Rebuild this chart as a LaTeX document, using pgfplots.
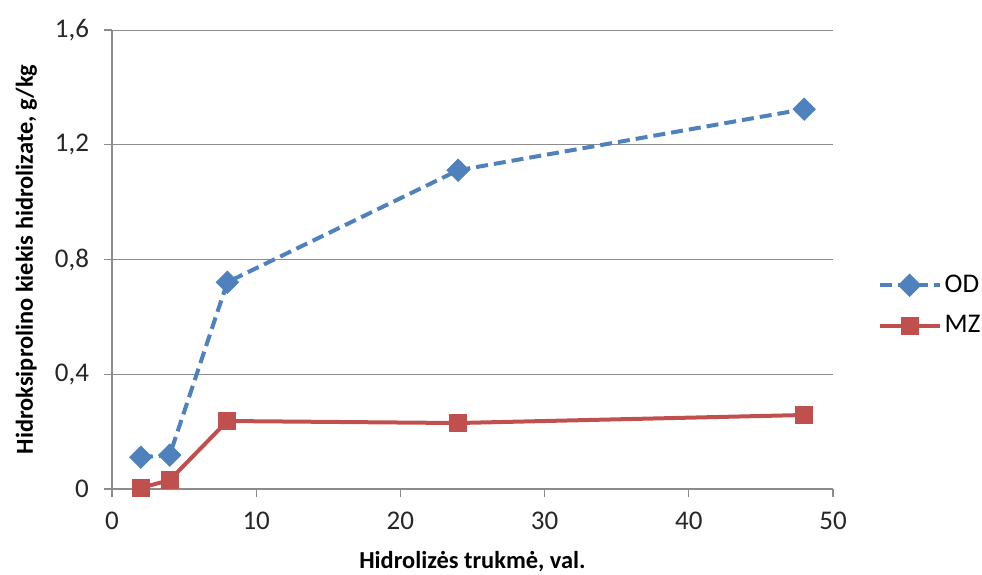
\documentclass[border=0pt]{standalone}
\usepackage{pgfplots}
\pgfplotsset{compat=1.18}
\usepackage{fontspec}
\setmainfont{Carlito}
\definecolor{odblue}{HTML}{4F81BD}
\definecolor{mzred}{HTML}{C0504D}
\definecolor{axgray}{HTML}{8C8C8C}
\begin{document}
\begin{tikzpicture}
\begin{axis}[
  scale only axis,
  width=360.5pt, height=229.5pt,
  xmin=0, xmax=50, ymin=0, ymax=1.6,
  xtick={0,10,20,30,40,50},
  ytick={0,0.4,0.8,1.2,1.6},
  axis x line*=bottom, axis y line*=left,
  axis line style={-, draw=axgray, line width=0.6pt},
  tick align=outside,
  major tick length=4pt,
  tick style={draw=axgray, line width=0.6pt},
  ymajorgrids,
  grid style={draw=axgray, line width=0.5pt},
  /pgf/number format/assume math mode=true,
  /pgf/number format/use comma,
  yticklabel style={/pgf/number format/fixed, /pgf/number format/precision=1, xshift=-4pt},
  xticklabel style={yshift=-4pt},
  tick label style={font=\fontsize{13.5}{16}\selectfont, text=black!85},
  xlabel={\textbf{Hidrolizės trukmė, val.}},
  ylabel={\textbf{Hidroksiprolino kiekis hidrolizate, g/kg}},
  label style={font=\fontsize{12.2}{15}\selectfont},
  xlabel style={yshift=-4pt},
  ylabel style={yshift=2pt},
  legend style={draw=none, at={(1.062,0.40)}, anchor=west, inner sep=0pt, outer sep=0pt,
    font=\fontsize{13.5}{16}\selectfont, row sep=6pt,
    nodes={inner xsep=1.5pt}},
  legend cell align=left,
  legend image code/.code={
    \draw[#1, mark repeat=2, mark phase=2] plot coordinates {(0pt,0pt) (15pt,0pt) (30pt,0pt)};
  },
  clip=false,
]
\addplot[color=odblue, line width=2pt, dash pattern=on 6pt off 3pt, mark=square*, mark size=3.9pt, mark options={solid, rotate=45, fill=odblue, line width=0.5pt}]
  coordinates {(2,0.111) (4,0.118) (8,0.721) (24,1.111) (48,1.324)};
\addlegendentry{OD}
\addplot[color=mzred, line width=2pt, mark=square*, mark size=4.3pt, mark options={solid, fill=mzred, line width=0.5pt}]
  coordinates {(2,0.004) (4,0.031) (8,0.237) (24,0.230) (48,0.258)};
\addlegendentry{MZ}
\coordinate (bl) at (rel axis cs:0,0);
\coordinate (tr) at (rel axis cs:1,1);
\end{axis}
\pgfresetboundingbox
\path[use as bounding box] ([shift={(-56pt,-42.5pt)}]bl) rectangle ([shift={(74.5pt,15pt)}]tr);
\end{tikzpicture}
\end{document}
